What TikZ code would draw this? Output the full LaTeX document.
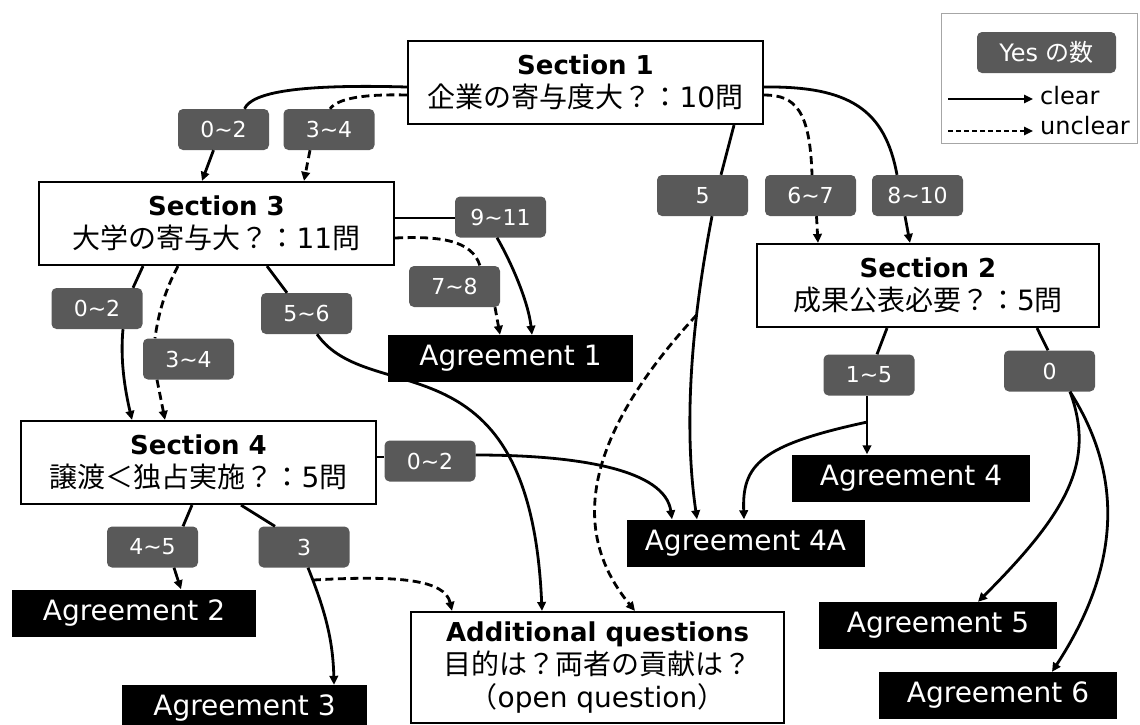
\documentclass[tikz,border=0pt]{standalone}
\usepackage{fontspec}
\setmainfont{DejaVu Sans}
\newfontfamily\jp{Noto Sans CJK JP}
\usetikzlibrary{arrows.meta,calc,positioning}
\definecolor{numgray}{HTML}{595959}
\definecolor{boxgray}{HTML}{A6A6A6}
\newcommand\sechead{\bfseries\fontsize{26}{33}\selectfont}
\newcommand\tld{\string~}

\begin{document}
\begin{tikzpicture}[x=1pt,y=-1pt,
  sect/.style={draw,line width=2.2pt,fill=white,align=center,minimum width=355pt,minimum height=83pt,inner sep=2pt,font=\fontsize{28}{33}\selectfont},
  agr/.style={fill=black,text=white,minimum width=238pt,minimum height=47pt,inner sep=0pt,font=\fontsize{28}{30}\selectfont},
  num/.style={fill=numgray,text=white,rounded corners=5pt,minimum width=91pt,minimum height=41pt,inner sep=0pt,font=\fontsize{22}{24}\selectfont},
  wire/.style={line width=2.8pt},
  arr/.style={wire,-{Triangle[length=9pt,width=8.5pt]}},
  dsh/.style={dash pattern=on 8pt off 4.5pt}]
\useasboundingbox (0,0) rectangle (1140,724);
% Sections
\node[sect] (sec1) at (585.5,82.5) {{\sechead Section 1}\\{\jp 企業の寄与度大？：}10{\jp 問}};
\node[sect] (sec3) at (216.5,223.5) {{\sechead Section 3}\\{\jp 大学の寄与大？：}11{\jp 問}};
\node[sect,minimum width=342pt] (sec2) at (928,285.5) {{\sechead Section 2}\\{\jp 成果公表必要？：}5{\jp 問}};
\node[sect] (sec4) at (198.5,462.5) {{\sechead Section 4}\\{\jp 譲渡＜独占実施？：}5{\jp 問}};
\node[sect,minimum width=373pt,minimum height=111pt] (addq) at (597.5,667.5) {{\sechead Additional questions}\\{\jp 目的は？両者の貢献は？}\\{\jp （}open question{\jp ）}};
% Agreements
\node[agr,minimum width=245pt] (agr1) at (510.5,358.5) {Agreement 1};
\node[agr,minimum width=244pt] (agr2) at (134,613) {Agreement 2};
\node[agr,minimum width=245pt] (agr3) at (244.5,708.5) {Agreement 3};
\node[agr] (agr4) at (911,478) {Agreement 4};
\node[agr] (agr4a) at (745.5,543) {Agreement 4A};
\node[agr] (agr5) at (938,625.5) {Agreement 5};
\node[agr] (agr6) at (998,695.5) {Agreement 6};
% Yes counts
\node[num] (n02a) at (223.5,129.5) {0\tld2};
\node[num] (n34a) at (329,129.5) {3\tld4};
\node[num] (n5) at (702.5,195.5) {5};
\node[num] (n67) at (810.5,195.5) {6\tld7};
\node[num] (n810) at (917.5,195.5) {8\tld10};
\node[num] (n911) at (500.5,217) {9\tld11};
\node[num] (n78) at (454.5,286.5) {7\tld8};
\node[num] (n56) at (306.5,313.5) {5\tld6};
\node[num] (n02b) at (97,308.5) {0\tld2};
\node[num] (n34b) at (188.5,359) {3\tld4};
\node[num] (n15) at (869,375) {1\tld5};
\node[num] (n0) at (1049.5,371) {0};
\node[num] (n02c) at (430,461) {0\tld2};
\node[num] (n45) at (152.5,547) {4\tld5};
\node[num] (n3) at (304,547) {3};
% Section 1
\draw[wire] ($(sec1.west)+(0,4.5)$) .. controls (300,84) and (252,92) .. ($(n02a.north)+(21,0)$);
\draw[arr] ($(n02a.south)+(-10,0)$) -- ($(sec3.north)+(-14.5,0)$);
\draw[wire,dsh] ($(sec1.west)+(0,12.5)$) .. controls (365,94) and (338,98) .. ($(n34a.north)+(1,0)$);
\draw[arr,dsh] ($(n34a.south)+(-19,0)$) -- ($(sec3.north)+(87.5,0)$);
\draw[wire] ($(sec1.south)+(148.5,0)$) -- ($(n5.north)+(18.5,0)$);
\draw[arr] ($(n5.south)+(9.5,0)$) .. controls (690,330) and (684,430) .. coordinate[pos=0.3] (b5) ($(agr4a.north)+(-48.5,0)$);
\draw[arr,dsh] (b5) .. controls (600,420) and (560,520) .. ($(addq.north)+(37.5,0)$);
\draw[wire,dsh] ($(sec1.east)+(0,12.5)$) .. controls (795,95) and (810,110) .. ($(n67.north)+(1.5,0)$);
\draw[arr,dsh] ($(n67.south)+(6,0)$) -- ($(sec2.north)+(-110,0)$);
\draw[wire] ($(sec1.east)+(0,4.5)$) .. controls (850,86) and (885,110) .. ($(n810.north)+(-20.5,0)$);
\draw[arr] ($(n810.south)+(-12.5,0)$) -- ($(sec2.north)+(-18,0)$);
% Section 3
\draw[wire] ($(sec3.east)+(0,-5.5)$) -- ($(n911.west)+(0,1)$);
\draw[arr] ($(n911.south)+(-3.5,0)$) .. controls (510,260) and (528,300) .. ($(agr1.north)+(21.5,0)$);
\draw[wire,dsh] ($(sec3.east)+(0,14.5)$) .. controls (440,236) and (472,240) .. ($(n78.north)+(25.5,0)$);
\draw[arr,dsh] ($(n78.south)+(40.5,0)$) -- ($(agr1.north)+(-10.5,0)$);
\draw[wire] ($(sec3.south)+(50.5,0)$) -- ($(n56.north)+(-19.5,0)$);
\draw[arr] ($(n56.south)+(10.5,0)$) .. controls (370,410) and (530,330) .. ($(addq.north)+(-55.5,0)$);
\draw[wire] ($(sec3.south)+(-73.5,0)$) -- ($(n02b.north)+(36,0)$);
\draw[arr] ($(n02b.south)+(26,0)$) .. controls (120,360) and (125,390) .. ($(sec4.north)+(-66.5,0)$);
\draw[wire,dsh] ($(sec3.south)+(-38.5,0)$) .. controls (165,290) and (158,315) .. ($(n34b.north)+(-33.5,0)$);
\draw[arr,dsh] ($(n34b.south)+(-31.5,0)$) -- ($(sec4.north)+(-33.5,0)$);
% Section 2
\draw[wire] ($(sec2.south)+(-41,0)$) -- ($(n15.north)+(8,0)$);
\draw[arr] ($(n15.south)+(-2,0)$) -- coordinate[pos=0.45] (b15) ($(agr4.north)+(-44,0)$);
\draw[arr] (b15) .. controls (760,445) and (742,465) .. ($(agr4a.north)+(-1.5,0)$);
\draw[wire] ($(sec2.south)+(109,0)$) -- ($(n0.north)+(-1.5,0)$);
\draw[arr] ($(n0.south)+(20.5,0)$) .. controls (1095,460) and (1070,510) .. ($(agr5.north)+(40,0)$);
\draw[arr] ($(n0.south)+(20.5,0)$) .. controls (1120,470) and (1125,560) .. ($(agr6.north)+(54,0)$);
% Section 4
\draw[wire] ($(sec4.east)+(0,-5.5)$) -- ($(n02c.west)+(0,-4)$);
\draw[arr] ($(n02c.east)+(0,-6)$) .. controls (580,455) and (665,470) .. ($(agr4a.north)+(-73.5,0)$);
\draw[wire] ($(sec4.south)+(-6.5,0)$) -- ($(n45.north)+(30.5,0)$);
\draw[arr] ($(n45.south)+(21.5,0)$) -- ($(agr2.north)+(47,0)$);
\draw[wire] ($(sec4.south)+(42.5,0)$) -- ($(n3.north)+(-29,0)$);
\draw[arr] ($(n3.south)+(4,0)$) .. controls (325,610) and (333,640) .. coordinate[pos=0.1] (b3) ($(agr3.north)+(89.5,0)$);
\draw[arr,dsh] (b3) .. controls (400,575) and (445,580) .. ($(addq.north)+(-145.5,0)$);
% Legend
\node[draw=boxgray,line width=1pt,minimum width=196pt,minimum height=130pt] (legend) at (1039,78) {};
\node[num,minimum width=139pt,font=\fontsize{24}{26}\selectfont] (yes) at (1046.5,52.5) {Yes {\jp の数}};
\coordinate (lg1) at (948,99);
\coordinate (lg2) at (1033,99);
\coordinate (lg3) at (948,131);
\coordinate (lg4) at (1033,131);
\draw[arr,line width=1.4pt] (lg1) -- (lg2);
\draw[arr,line width=1.4pt,dash pattern=on 5pt off 3pt] (lg3) -- (lg4);
\node[anchor=west,inner sep=0pt,font=\fontsize{24}{26}\selectfont] (clr) at (1040,96) {clear};
\node[anchor=west,inner sep=0pt,font=\fontsize{24}{26}\selectfont] (unclr) at (1040,126) {unclear};
\end{tikzpicture}
\end{document}
